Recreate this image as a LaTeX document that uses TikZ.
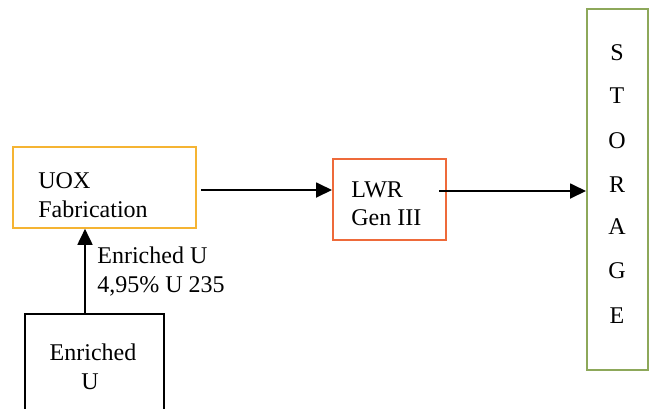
\documentclass[tikz,border=0pt]{standalone}
\usepackage{fontspec}
\setmainfont{Liberation Serif}
\usetikzlibrary{arrows.meta}
\definecolor{uoxc}{HTML}{F5B433}
\definecolor{lwrc}{HTML}{EE6A3A}
\definecolor{stoc}{HTML}{8DA85A}
\tikzset{
  boxnode/.style={draw,line width=0.9pt,inner sep=0pt,anchor=north west},
  txt/.style={inner sep=0pt,font=\fontsize{12}{14.5}\selectfont},
  arr/.style={line width=0.9pt,-{Triangle[length=8pt,width=7.5pt]}}
}
\begin{document}
\begin{tikzpicture}[x=0.5pt,y=-0.5pt]
\clip (0,0) rectangle (652,408);
% boxes
\node[boxnode,draw=uoxc,minimum width=91.5pt,minimum height=40.5pt] (uox) at (12,146) {};
\node[boxnode,draw=lwrc,minimum width=56.5pt,minimum height=40.5pt] (lwr) at (332,158) {};
\node[boxnode,draw=stoc,minimum width=30.5pt,minimum height=180.5pt] (sto) at (586,8) {};
\node[boxnode,draw=black,minimum width=69.5pt,minimum height=60pt] (enr) at (24,313) {};
% texts
\node[txt,anchor=base west] (t1) at (38,188) {UOX};
\node[txt,anchor=base west] (t2) at (38,217) {Fabrication};
\node[txt,anchor=base west] (t3) at (351,197) {LWR};
\node[txt,anchor=base west] (t4) at (351,225) {Gen III};
\node[txt,anchor=base] (t5) at (93,360) {Enriched};
\node[txt,anchor=base] (t6) at (90,389) {U};
\node[txt,anchor=base west] (l1) at (97,263) {Enriched U};
\node[txt,anchor=base west] (l2) at (97,292) {4,95\% U 235};
\foreach \l/\yy [count=\i] in {S/60.7,T/103,O/148,R/192,A/234,G/278,E/323}
  \node[txt,anchor=base] (s\i) at (617,\yy) {\l};
% connectors
\coordinate (a1) at (201,190);
\draw[arr] (a1) -- (a1 -| lwr.west);
\coordinate (a2) at (439,191);
\draw[arr] (a2) -- (a2 -| sto.west);
\coordinate (a3) at (85,313);
\draw[arr] (a3) -- (a3 |- uox.south);
\end{tikzpicture}
\end{document}
